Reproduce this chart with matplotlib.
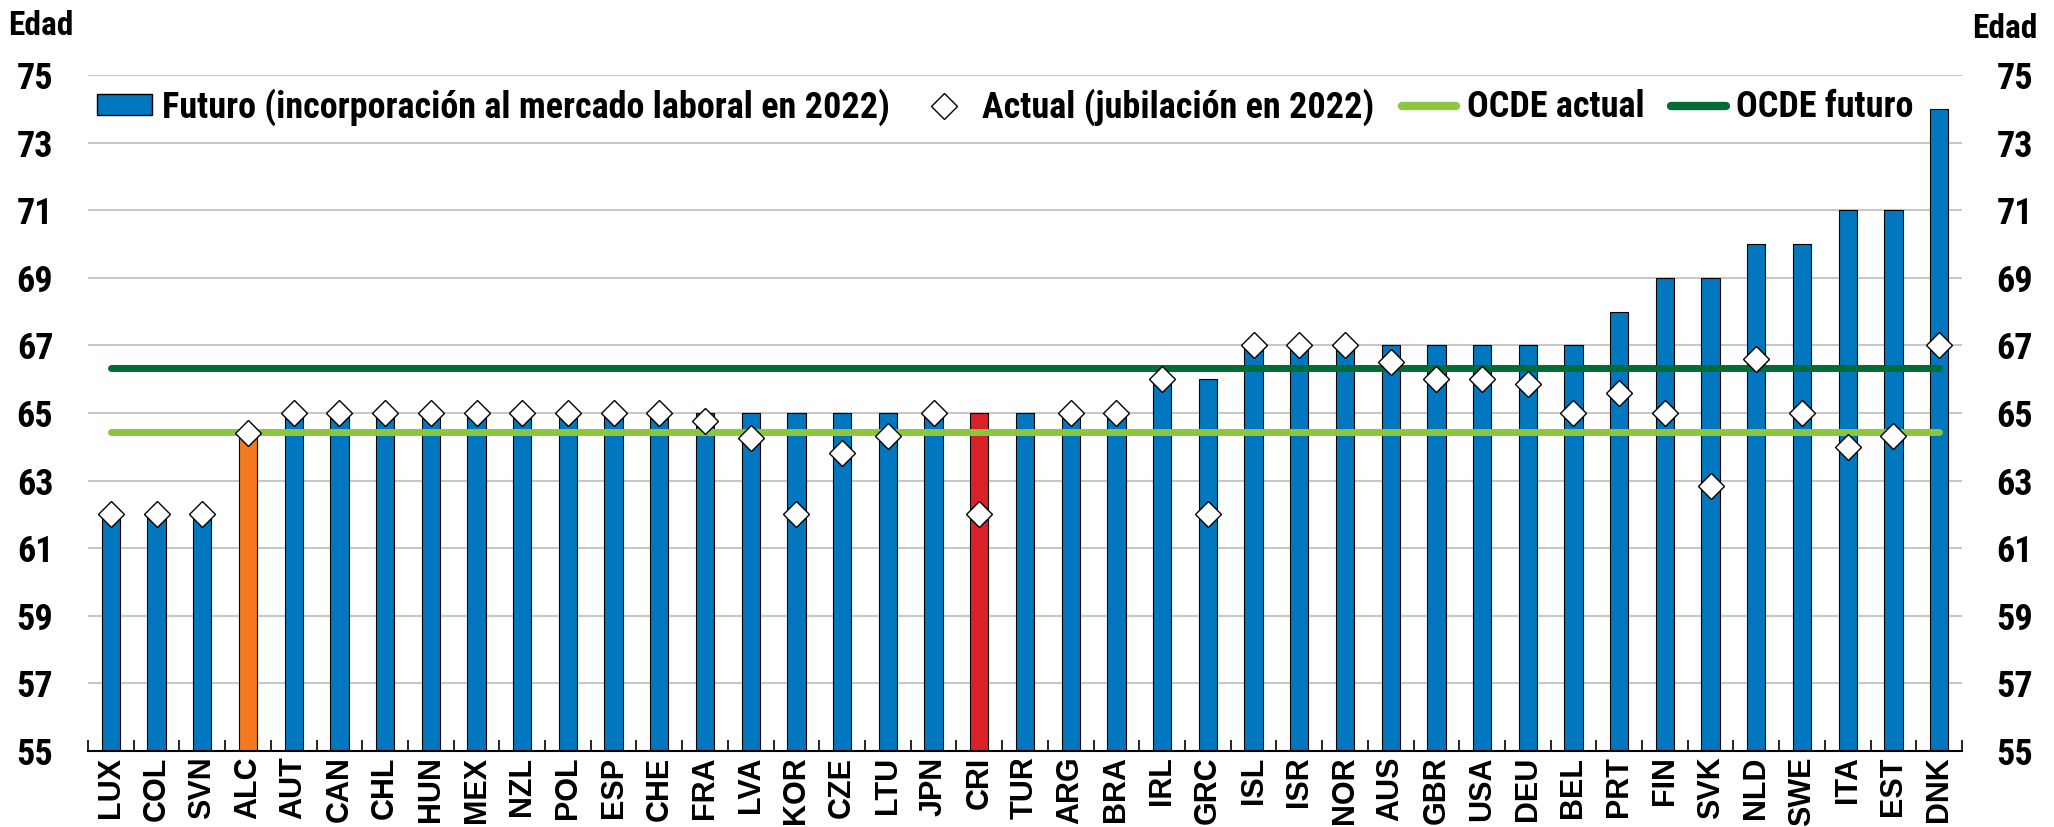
import numpy as np
import matplotlib.pyplot as plt
from matplotlib.patches import Patch
from matplotlib.lines import Line2D

countries = ["LUX", "COL", "SVN", "ALC", "AUT", "CAN", "CHL", "HUN", "MEX", "NZL",
             "POL", "ESP", "CHE", "FRA", "LVA", "KOR", "CZE", "LTU", "JPN", "CRI",
             "TUR", "ARG", "BRA", "IRL", "GRC", "ISL", "ISR", "NOR", "AUS", "GBR",
             "USA", "DEU", "BEL", "PRT", "FIN", "SVK", "NLD", "SWE", "ITA", "EST", "DNK"]
futuro = [62, 62, 62, 64.4, 65, 65, 65, 65, 65, 65,
          65, 65, 65, 65, 65, 65, 65, 65, 65, 65,
          65, 65, 65, 66, 66, 67, 67, 67, 67, 67,
          67, 67, 67, 68, 69, 69, 70, 70, 71, 71, 74]
actual = [62, 62, 62, 64.4, 65, 65, 65, 65, 65, 65,
          65, 65, 65, 64.75, 64.27, 62, 63.82, 64.33, 65, 62,
          np.nan, 65, 65, 66, 62, 67, 67, 67, 66.5, 66,
          66, 65.85, 65, 65.6, 65, 62.83, 66.6, 65, 64, 64.33, 67]
ocde_actual = 64.43
ocde_futuro = 66.33

blue = "#0077BE"
green_light = "#8CC63F"
green_dark = "#006B35"
colors = [blue] * len(countries)
colors[countries.index("ALC")] = "#F47920"
colors[countries.index("CRI")] = "#DA2128"

narrow = ["Liberation Sans Narrow", "Roboto Condensed", "Asap Condensed", "DejaVu Sans"]
plt.rcParams["font.family"] = narrow
plt.rcParams["font.weight"] = "bold"

fig = plt.figure(figsize=(20.54, 8.27), dpi=100)
ax = fig.add_axes([88 / 2054, 1 - 751 / 827, (1962 - 88) / 2054, (751 - 75) / 827])

x = np.arange(len(countries))
ax.bar(x, np.array(futuro) - 55, bottom=55, width=0.4, color=colors,
       edgecolor="black", linewidth=0.8, zorder=2)
ax.plot([x[0], x[-1]], [ocde_actual, ocde_actual], color=green_light, lw=5,
        solid_capstyle="round", zorder=3)
ax.plot([x[0], x[-1]], [ocde_futuro, ocde_futuro], color=green_dark, lw=5,
        solid_capstyle="round", zorder=3)
ax.plot(x, actual, linestyle="none", marker="D", markersize=13,
        markerfacecolor="white", markeredgecolor="black", markeredgewidth=1.0,
        zorder=4)

ax.set_xlim(-0.5, len(countries) - 0.5)
ax.set_ylim(55, 75)
ax.set_yticks(np.arange(55, 76, 2))
ax.yaxis.grid(True, color="#C8C8C8", lw=1.5, zorder=0)
ax.set_axisbelow(True)
for s in ["left", "right", "top"]:
    ax.spines[s].set_visible(False)
ax.spines["bottom"].set_linewidth(1.5)

ax.set_xticks(x)
ax.set_xticklabels(countries, rotation=90, fontsize=22)
for t in ax.get_xticklabels():
    t.set_fontfamily("Liberation Sans")
    t.set_fontweight("bold")
ax.set_xticks(np.arange(-0.5, len(countries), 1), minor=True)
ax.tick_params(axis="x", which="major", length=0, pad=4)
ax.tick_params(axis="x", which="minor", direction="in", length=8, width=1.2)
ax.tick_params(axis="y", which="both", length=0, labelsize=26, labelleft=True,
               labelright=True, pad=25)

handles = [
    Patch(facecolor=blue, edgecolor="black", linewidth=1.0),
    Line2D([], [], linestyle="none", marker="D", markersize=13,
           markerfacecolor="white", markeredgecolor="black", markeredgewidth=1.0),
    Line2D([], [], color=green_light, lw=6, solid_capstyle="round"),
    Line2D([], [], color=green_dark, lw=6, solid_capstyle="round"),
]
labels = ["Futuro (incorporación al mercado laboral en 2022)",
          "Actual (jubilación en 2022)", "OCDE actual", "OCDE futuro"]
ax.legend(handles, labels, ncol=4, loc="center left",
          bbox_to_anchor=(0.005, 0.953), frameon=False, fontsize=26,
          handlelength=1.5, handleheight=0.5, handletextpad=0.3,
          columnspacing=0.75, borderpad=0, borderaxespad=0)

fig.text(0.004, 0.988, "Edad", fontsize=24, va="top", ha="left")
fig.text(0.992, 0.984, "Edad", fontsize=24, va="top", ha="right")

fig.savefig("out.png", dpi=100)
